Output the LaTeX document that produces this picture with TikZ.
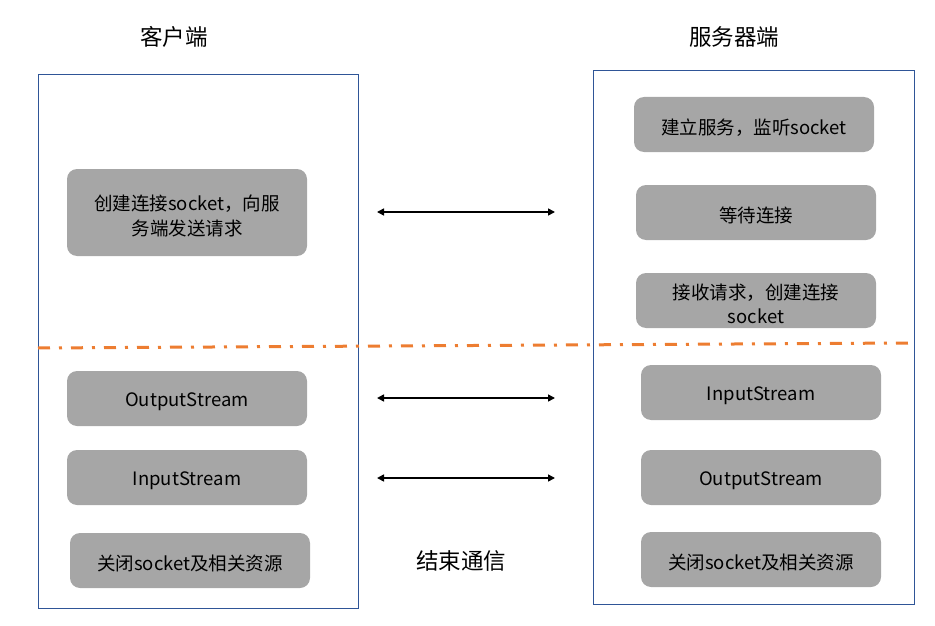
\documentclass[tikz,border=0pt]{standalone}
\usepackage{fontspec}
\setmainfont{Noto Sans CJK SC}
\usetikzlibrary{arrows.meta}
\definecolor{boxgray}{HTML}{A6A6A6}
\definecolor{panelblue}{HTML}{2F5597}
\definecolor{dashorange}{HTML}{ED7D31}
\tikzset{
  panel/.style={draw=panelblue, line width=1pt, inner sep=0pt},
  gbox/.style={fill=boxgray, rounded corners=10pt, minimum width=240pt, minimum height=55pt, inner sep=0pt},
  btxt/.style={inner sep=0pt, align=center, font=\fontsize{18.5}{25}\selectfont, yshift=-3pt},
  hdr/.style={font=\fontsize{22.5}{27}\selectfont},
  dbl/.style={{Triangle[length=7pt,width=7pt]}-{Triangle[length=7pt,width=7pt]}, line width=1.6pt},
  sep/.style={draw=dashorange, line width=3pt, dash pattern=on 12pt off 9pt on 3pt off 9pt}
}
\begin{document}
\begin{tikzpicture}[x=1pt,y=-1pt]
\useasboundingbox (0,0) rectangle (935,626);
% panels
\node[panel, minimum width=320pt, minimum height=533pt] (lp) at (198,341.5) {};
\node[panel, minimum width=321pt, minimum height=533pt] (rp) at (753.5,337.5) {};
% headers
\node[hdr] (lh) at (174,37) {客户端};
\node[hdr] (rh) at (734,37) {服务器端};
% left boxes
\node[gbox, minimum height=87pt] (l1) at (187,212.5) {};
\node[btxt] (l1t) at (l1.center) {创建连接socket，向服\\务端发送请求};
\node[gbox] (l2) at (187,398.5) {};
\node[btxt] (l2t) at (l2.center) {OutputStream};
\node[gbox] (l3) at (187,477.5) {};
\node[btxt] (l3t) at (l3.center) {InputStream};
\node[gbox] (l4) at (190,560.5) {};
\node[btxt] (l4t) at (l4.center) {关闭socket及相关资源};
% right boxes
\node[gbox] (r1) at (754,124.5) {};
\node[btxt] (r1t) at (r1.center) {建立服务，监听socket};
\node[gbox] (r2) at (756,212.5) {};
\node[btxt] (r2t) at (r2.center) {等待连接};
\node[gbox] (r3) at (756,300.5) {};
\node[btxt, font=\fontsize{18.5}{24}\selectfont] (r3t) at (r3.center) {接收请求，创建连接\\socket};
\node[gbox] (r4) at (761,392.5) {};
\node[btxt] (r4t) at (r4.center) {InputStream};
\node[gbox] (r5) at (761,477.5) {};
\node[btxt] (r5t) at (r5.center) {OutputStream};
\node[gbox] (r6) at (761,559.5) {};
\node[btxt] (r6t) at (r6.center) {关闭socket及相关资源};
% separator
\coordinate (sa) at (38,348);
\coordinate (sb) at (908,343);
\draw[sep] (sa) -- (sb);
% arrows
\coordinate (a1l) at (377,212); \coordinate (a1r) at (555,212);
\coordinate (a2l) at (377,398); \coordinate (a2r) at (555,398);
\coordinate (a3l) at (377,478); \coordinate (a3r) at (555,478);
\draw[dbl] (a1l) -- (a1r);
\draw[dbl] (a2l) -- (a2r);
\draw[dbl] (a3l) -- (a3r);
% end label
\node[hdr] (end) at (461,561) {结束通信};
\end{tikzpicture}
\end{document}
